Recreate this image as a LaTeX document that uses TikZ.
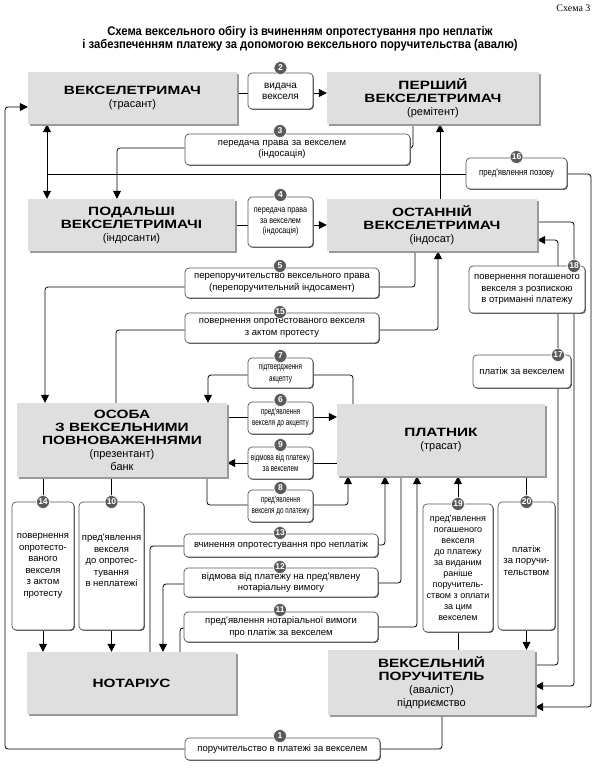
\documentclass[tikz,border=0pt]{standalone}
\usepackage{fontspec}
\setmainfont{Liberation Sans}
\newfontfamily\labf{Liberation Sans}
\newfontfamily\narf[FakeStretch=0.7]{Liberation Sans}
\newfontfamily\nargf[FakeStretch=0.82]{Liberation Sans}
\newfontfamily\widef[FakeStretch=1.28]{Liberation Sans}
\newfontfamily\titf[FakeStretch=0.9]{Liberation Sans}
\newfontfamily\serf{Liberation Serif}
\usetikzlibrary{arrows.meta,shadows}
\pgfdeclarelayer{bg}
\pgfdeclarelayer{paper}
\pgfsetlayers{paper,bg,main}
\definecolor{boxgray}{HTML}{DFDFDF}
\definecolor{shgray}{HTML}{9A9A9A}
\definecolor{numgray}{HTML}{5A5A5A}
\definecolor{edgegray}{HTML}{555555}
\newcommand{\bx}[1]{{\widef\bfseries\fontsize{12}{13}\selectfont #1}}
\newcommand{\rg}[1]{{\fontsize{11}{13}\selectfont #1}}
\newcommand{\cbox}[2]{\makebox[#1]{#2}}
\begin{document}
\begin{tikzpicture}[x=1pt,y=-1pt,
 mainbox/.style={draw=none, fill=boxgray, inner sep=0pt, align=center,
   font=\fontsize{12}{13}\selectfont,
   drop shadow={shadow xshift=1.5pt, shadow yshift=-1.5pt, fill=shgray, opacity=1}},
 lbl/.style={draw=edgegray, line width=0.7pt, fill=white, rounded corners=4pt,
   inner sep=0pt, align=center, font=\labf\fontsize{9.5}{11.5}\selectfont,
   drop shadow={shadow xshift=0.9pt, shadow yshift=-0.9pt, fill=edgegray, opacity=1}},
 num/.style={circle, fill=numgray, draw=white, line width=0.6pt, inner sep=0pt,
   minimum size=13pt, text=white, font=\bfseries\fontsize{8.5}{8.5}\selectfont},
 ln/.style={draw=black, line width=0.8pt, rounded corners=3pt},
 ar/.style={ln, -{Triangle[length=8pt,width=8pt]}},
 dar/.style={ln, {Triangle[length=8pt,width=8pt]}-{Triangle[length=8pt,width=8pt]}}
]
\begin{pgfonlayer}{paper}
\fill[white] (0,0) rectangle (600,769);
\end{pgfonlayer}
\useasboundingbox (0,0) rectangle (600,769);

% header
\node[anchor=east, font=\serf\fontsize{10}{12}\selectfont] (sch) at (594,8) {Схема 3};
\node[align=center, font=\titf\bfseries\fontsize{12.5}{13.5}\selectfont] (title) at (300,38.5)
  {Схема вексельного обігу із вчиненням опротестування про неплатіж\\
   і забезпеченням платежу за допомогою вексельного поручительства (авалю)};

% main boxes
\node[mainbox, minimum width=209pt, minimum height=52pt] (A) at (132.5,98)
  {\bx{ВЕКСЕЛЕТРИМАЧ}\\\rg{(трасант)}};
\node[mainbox, minimum width=212pt, minimum height=52pt] (B) at (433,98)
  {\bx{ПЕРШИЙ}\\\bx{ВЕКСЕЛЕТРИМАЧ}\\\rg{(ремітент)}};
\node[mainbox, minimum width=207pt, minimum height=52pt] (C) at (131.5,225)
  {\bx{ПОДАЛЬШІ}\\\bx{ВЕКСЕЛЕТРИМАЧІ}\\\rg{(індосанти)}};
\node[mainbox, minimum width=210pt, minimum height=52pt] (D) at (432,225)
  {\bx{ОСТАННІЙ}\\\bx{ВЕКСЕЛЕТРИМАЧ}\\\rg{(індосат)}};
\node[mainbox, minimum width=210pt, minimum height=74pt] (E) at (122,440)
  {\bx{ОСОБА}\\\bx{З ВЕКСЕЛЬНИМИ}\\\bx{ПОВНОВАЖЕННЯМИ}\\\rg{(презентант)}\\\rg{банк}};
\node[mainbox, minimum width=208pt, minimum height=72pt] (P) at (441,440)
  {\bx{ПЛАТНИК}\\\rg{(трасат)}};
\node[mainbox, minimum width=209pt, minimum height=62pt] (N) at (131.5,683)
  {\bx{НОТАРІУС}};
\node[mainbox, minimum width=207pt, minimum height=65pt] (F) at (431.5,682.5)
  {\bx{ВЕКСЕЛЬНИЙ}\\\bx{ПОРУЧИТЕЛЬ}\\\rg{(аваліст)}\\\rg{підприємство}};

% labels
\node[lbl, minimum width=65pt, minimum height=36pt, font=\labf\fontsize{10}{11}\selectfont] (l2) at (280.5,91) {видача\\векселя};
\node[lbl, text width=225pt, minimum height=31pt, align=left] (l3) at (297.5,149.5)
  {\cbox{194pt}{передача права за векселем}\\\cbox{194pt}{(індосація)}};
\node[lbl, minimum width=65pt, minimum height=50pt, font=\nargf\fontsize{8.8}{10.5}\selectfont] (l4) at (280.5,222)
  {передача права\\за векселем\\(індосація)};
\node[lbl, minimum width=194pt, minimum height=30pt] (l5) at (282,283)
  {перепоручительство вексельного права\\(перепоручительний індосамент)};
\node[lbl, minimum width=194pt, minimum height=30pt] (l15) at (282,328)
  {повернення опротестованого векселя\\з актом протесту};
\node[lbl, minimum width=101pt, minimum height=31pt, font=\nargf\fontsize{9.5}{11}\selectfont] (l16) at (516.5,173.5)
  {пред'явлення позову};
\node[lbl, minimum width=116pt, minimum height=47pt] (l18) at (527,289.5)
  {повернення погашеного\\векселя з розпискою\\в отриманні платежу};
\node[lbl, minimum width=98pt, minimum height=33pt] (l17) at (522,371.5)
  {платіж за векселем};
\node[lbl, minimum width=65pt, minimum height=30pt, font=\narf\fontsize{9}{11.5}\selectfont] (l7) at (280.5,373)
  {підтвердження\\акцепту};
\node[lbl, minimum width=65pt, minimum height=32pt, font=\narf\fontsize{9}{11}\selectfont] (l6) at (280.5,418)
  {пред'явлення\\векселя до акцепту};
\node[lbl, minimum width=65pt, minimum height=32pt, font=\narf\fontsize{9}{11}\selectfont] (l9) at (280.5,463)
  {відмова від платежу\\за векселем};
\node[lbl, minimum width=65pt, minimum height=32pt, font=\narf\fontsize{9}{11}\selectfont] (l8) at (280.5,506)
  {пред'явлення\\векселя до платежу};
\node[lbl, minimum width=194pt, minimum height=23pt] (l13) at (281,545.5)
  {вчинення опротестування про неплатіж};
\node[lbl, minimum width=194pt, minimum height=29pt] (l12) at (281,582.5)
  {відмова від платежу на пред'явлену\\нотаріальну вимогу};
\node[lbl, minimum width=194pt, minimum height=30pt] (l11) at (281,627)
  {пред'явлення нотаріальної вимоги\\про платіж за векселем};
\node[lbl, minimum width=62pt, minimum height=128pt] (l14) at (43,566)
  {повернення\\опротесто-\\ваного\\векселя\\з актом\\протесту};
\node[lbl, minimum width=65pt, minimum height=128pt] (l10) at (111.5,566)
  {пред'явлення\\векселя\\до опротес-\\тування\\в неплатежі\\ \mbox{}};
\node[lbl, minimum width=70pt, minimum height=128pt, font=\labf\fontsize{9}{11}\selectfont] (l19) at (458,568)
  {пред'явлення\\погашеного\\векселя\\до платежу\\за виданим\\раніше\\поручитель-\\ством з оплати\\за цим\\векселем};
\node[lbl, minimum width=57pt, minimum height=128pt] (l20) at (526.5,566)
  {платіж\\за поручи-\\тельством\\ \mbox{}};
\node[lbl, minimum width=195pt, minimum height=22pt] (l1) at (282.5,749)
  {поручительство в платежі за векселем};

% number circles
\node[num] (c2) at (280.5,68) {2};
\node[num] (c3) at (280,131) {3};
\node[num] (c4) at (280.5,195) {4};
\node[num] (c5) at (280,266) {5};
\node[num] (c15) at (280,312) {15};
\node[num] (c16) at (516.5,157) {16};
\node[num] (c18) at (574,266) {18};
\node[num] (c17) at (558,355) {17};
\node[num] (c7) at (280.5,356) {7};
\node[num] (c6) at (280.5,400) {6};
\node[num] (c9) at (280.5,445) {9};
\node[num] (c8) at (280.5,488) {8};
\node[num] (c13) at (280,533) {13};
\node[num] (c12) at (280,567) {12};
\node[num] (c11) at (280,610) {11};
\node[num] (c14) at (43,502) {14};
\node[num] (c10) at (111.5,502) {10};
\node[num] (c19) at (458,504) {19};
\node[num] (c20) at (526.5,502) {20};
\node[num] (c1) at (280,736) {1};

\coordinate (j16) at (47,174);

\begin{pgfonlayer}{bg}
% 2
\draw[ln] (A.east |- 0,93) -- (l2.west |- 0,93);
\draw[ar] (l2.east |- 0,93) -- (B.west |- 0,93);
% 3
\draw[ln] (B.south -| 413,0) |- (l3.east |- 0,148);
\draw[ar] (l3.west |- 0,148) -| (C.north -| 117,0);
% 4
\draw[ln] (C.east |- 0,225) -- (l4.west |- 0,225);
\draw[ar] (l4.east |- 0,225) -- (D.west |- 0,225);
% double arrow A-C
\draw[dar] (A.south -| 47,0) -- (C.north -| 47,0);
% 16
\draw[ln] (j16) -- (l16.west |- j16);
\draw[ar] (l16.east |- j16) -- (591,174) -- (591,707) -- (F.east |- 0,707);
% D -> B
\draw[ar] (D.north -| 440,0) -- (B.south -| 440,0);
% 5
\draw[ln] (D.south -| 415,0) |- (l5.east |- 0,287);
\draw[ar] (l5.west |- 0,287) -| (E.north -| 45,0);
% 15
\draw[ln] (E.north -| 116,0) |- (l15.west |- 0,330);
\draw[ar] (l15.east |- 0,330) -| (D.south -| 438,0);
% 18
\draw[ar] (D.east |- 0,222) -- (574,222) -- (574,686) -- (F.east |- 0,686);
% 17
\draw[ar] (F.east |- 0,665) -- (558,665) -- (558,240) -- (D.east |- 0,240);
% 7
\draw[ln] (P.north -| 353,0) |- (l7.east |- 0,375);
\draw[ar] (l7.west |- 0,375) -| (E.north -| 208,0);
% 6
\draw[ln] (E.east |- 0,417) -- (l6.west |- 0,417);
\draw[ar] (l6.east |- 0,417) -- (P.west |- 0,417);
% 9
\draw[ln] (P.west |- 0,463) -- (l9.east |- 0,463);
\draw[ar] (l9.west |- 0,463) -- (E.east |- 0,463);
% 8
\draw[ln] (E.south -| 207,0) |- (l8.west |- 0,505);
\draw[ar] (l8.east |- 0,505) -| (P.south -| 348,0);
% 13
\draw[ln] (N.north -| 150,0) |- (l13.west |- 0,546);
\draw[ar] (l13.east |- 0,545) -| (P.south -| 385,0);
% 12
\draw[ln] (P.south -| 401,0) |- (l12.east |- 0,583);
\draw[ar] (l12.west |- 0,584) -| (N.north -| 163,0);
% 11
\draw[ln] (N.north -| 180,0) |- (l11.west |- 0,628);
\draw[ar] (l11.east |- 0,627) -| (P.south -| 417,0);
% 14
\draw[ln] (E.south -| l14.north) -- (l14.north);
\draw[ar] (l14.south) -- (N.north -| l14.south);
% 10
\draw[ln] (E.south -| l10.north) -- (l10.north);
\draw[ar] (l10.south) -- (N.north -| l10.south);
% 19
\draw[ln] (F.north -| l19.south) -- (l19.south);
\draw[ar] (l19.north) -- (P.south -| l19.north);
% 20
\draw[ln] (P.south -| l20.north) -- (l20.north);
\draw[ar] (l20.south) -- (F.north -| l20.south);
% 1
\draw[ln] (F.south -| 442,0) |- (l1.east);
\draw[ar] (l1.west) -- (5,749) -- (5,107) -- (A.west |- 0,107);
\end{pgfonlayer}
\end{tikzpicture}
\end{document}
